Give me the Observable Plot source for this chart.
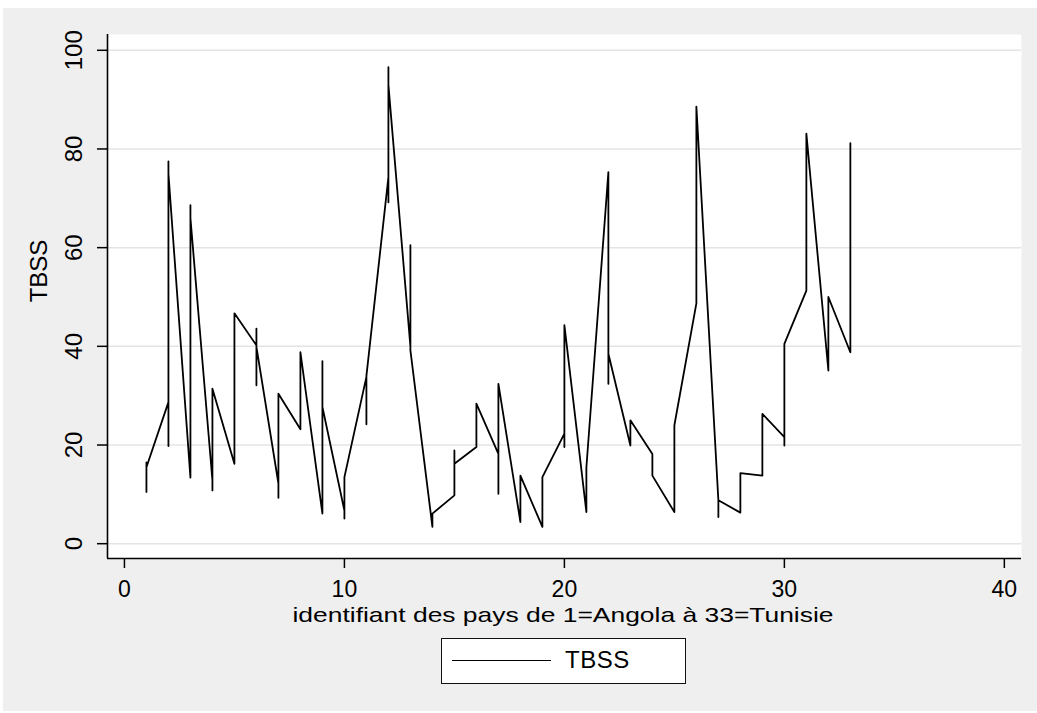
<!DOCTYPE html>
<html>
<head>
<meta charset="utf-8">
<script src="https://cdn.jsdelivr.net/npm/d3@7"></script>
<script src="https://cdn.jsdelivr.net/npm/@observablehq/plot@0.6"></script>
<style>
  html, body { margin: 0; padding: 0; background: #ffffff; }
  #page { position: relative; width: 1037px; height: 713px; background: #ffffff; overflow: hidden;
          font-family: "Liberation Sans", Arial, sans-serif; }
  #bg { position: absolute; left: 3px; top: 8px; width: 1034px; height: 703px; background: #efefef; }
  #chart { position: absolute; left: 0; top: 0; }
  #legend { position: absolute; left: 441px; top: 638px; width: 243px; height: 44px;
            border: 1.5px solid #111; background: #ffffff; }
  #legend .swatch { position: absolute; left: 10px; top: 21px; width: 99px; height: 0;
                    border-top: 1.6px solid #000; }
  #legend .lab { position: absolute; left: 123px; top: 8px; font-size: 24px; line-height: 26px; color: #000;
                 letter-spacing: 0.5px; }
</style>
</head>
<body>
<div id="page">
  <div id="bg"></div>
  <div id="chart"></div>
  <div id="legend"><div class="swatch"></div><div class="lab">TBSS</div></div>
</div>
<script>
// ---- data ----
const countryIds = [1,2,3,4,5,6,7,8,9,10,11,12,13,14,15,16,17,18,19,20,21,22,23,24,25,26,27,28,29,30,31,32,33];
// TBSS values per country, in year order
const tbssSeries = [
  [10.5, 12, 16.5, 15.5],
  [28.7, 19.8, 56, 77.5, 75],
  [13.4, 40, 68.6, 66],
  [12.8, 10.8, 20, 31.4],
  [16.2, 30, 46.7],
  [40.2, 43.6, 32.1, 36, 39.9],
  [12.2, 9.3, 20, 30.4],
  [23.2, 31, 38.8],
  [6.1, 20, 37.0, 27.7],
  [6.7, 5.1, 9, 13.5],
  [33.8, 24.2, 34],
  [74.3, 69.2, 85, 96.6, 93],
  [40, 60.5, 45, 39.2],
  [3.4, 5, 6.1],
  [9.8, 18.9, 16.2],
  [19.6, 24, 28.4],
  [18.2, 10.1, 22, 32.4],
  [4.4, 8, 13.8],
  [3.4, 6, 13.5],
  [22.3, 19.6, 30, 44.3],
  [6.4, 11, 15.5],
  [75.3, 55, 32.4, 38.5],
  [19.9, 22, 25],
  [18.2, 16, 13.8],
  [6.4, 15, 24],
  [48.7, 70, 88.6],
  [8.8, 5.4, 8.8],
  [6.3, 10, 14.3],
  [13.8, 16, 26.3],
  [21.6, 19.9, 30, 40.5],
  [51.3, 62, 83.1],
  [35.1, 39, 50],
  [38.8, 60, 72, 81.2, 78]
];
const xTicks = [0, 10, 20, 30, 40];
const yTicks = [0, 20, 40, 60, 80, 100];
const xDomain = [-0.77, 40.78];
const yDomain = [-3, 103.2];
const xTitle = "identifiant des pays de 1=Angola à 33=Tunisie";
const yTitle = "TBSS";

const rows = countryIds.flatMap((id, i) => tbssSeries[i].map(v => ({id, v})));

const W = 1037, H = 635;
const chart = Plot.plot({
  width: W, height: H,
  marginLeft: 107, marginRight: 16, marginTop: 34, marginBottom: 77,
  style: {background: "transparent", color: "#000", fontFamily: "Liberation Sans, Arial, sans-serif", overflow: "visible"},
  x: {domain: xDomain},
  y: {domain: yDomain},
  marks: [
    Plot.frame({fill: "#ffffff", stroke: null}),
    Plot.gridY(yTicks, {stroke: "#e4e4e4", strokeOpacity: 1, strokeWidth: 1.5}),
    Plot.axisY(yTicks, {tickSize: 10, tickPadding: 16, tickRotate: -90, textAnchor: "middle", lineAnchor: "bottom",
                        fontSize: 24, strokeWidth: 1.5, label: null}),
    Plot.axisX(xTicks, {tickSize: 10, tickPadding: 12, fontSize: 23, strokeWidth: 1.5, label: null}),
    Plot.ruleX([xDomain[0]], {stroke: "#000", strokeWidth: 1.6}),
    Plot.ruleY([yDomain[0]], {stroke: "#000", strokeWidth: 1.6}),
    Plot.line(rows, {x: "id", y: "v", stroke: "#000", strokeWidth: 1.8})
  ]
});
document.getElementById("chart").appendChild(chart);

// axis titles
const svg = d3.select(chart);
svg.append("text")
  .attr("x", 563).attr("y", 622)
  .attr("text-anchor", "middle")
  .attr("font-size", 21)
  .attr("fill", "#000")
  .attr("textLength", 541).attr("lengthAdjust", "spacingAndGlyphs")
  .text(xTitle);
svg.append("text")
  .attr("transform", "translate(47,271) rotate(-90)")
  .attr("text-anchor", "middle")
  .attr("font-size", 24)
  .attr("fill", "#000")
  .text(yTitle);
</script>
</body>
</html>
